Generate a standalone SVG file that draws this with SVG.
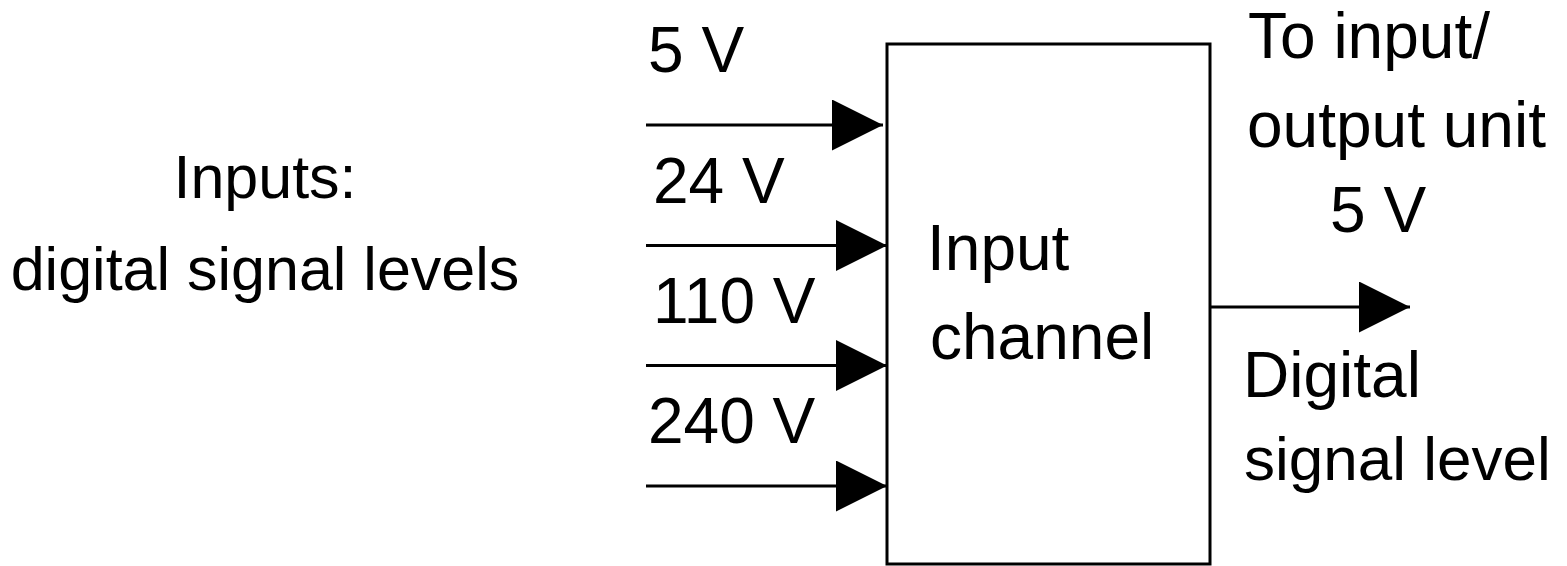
<svg xmlns="http://www.w3.org/2000/svg" width="1567" height="566" viewBox="0 0 1567 566">
  <style>
    .t { font-family: "Liberation Sans", Arial, sans-serif; font-size: 64px; fill: #000; }
    .tl { font-family: "Liberation Sans", Arial, sans-serif; font-size: 61px; fill: #000; }
    .box { fill: #fff; stroke: #000; stroke-width: 3; }
    .wire { stroke: #000; stroke-width: 3; fill: none; }
  </style>
  <defs>
    <marker id="arrow" markerUnits="userSpaceOnUse" markerWidth="51" markerHeight="51" viewBox="0 0 51 51" refX="51" refY="25.5" orient="auto">
      <path d="M0,0 L51,25.5 L0,51 Z" fill="#000"/>
    </marker>
  </defs>
  <rect width="1567" height="566" fill="#fff"/>

  <g id="inputs-label">
    <text class="tl" x="265" y="198" text-anchor="middle">Inputs:</text>
    <text class="tl" x="265" y="290" text-anchor="middle">digital signal levels</text>
  </g>

  <g id="input-channel">
    <rect class="box" x="887" y="44" width="323" height="520"/>
    <text class="t" x="927" y="270">Input</text>
    <text class="t" x="930" y="359">channel</text>
  </g>

  <g id="connectors">
    <line class="wire" x1="646" y1="125" x2="883" y2="125" marker-end="url(#arrow)"/>
    <line class="wire" x1="646" y1="245.5" x2="887" y2="245.5" marker-end="url(#arrow)"/>
    <line class="wire" x1="646" y1="365.5" x2="887" y2="365.5" marker-end="url(#arrow)"/>
    <line class="wire" x1="646" y1="486" x2="887" y2="486" marker-end="url(#arrow)"/>
    <line class="wire" x1="1210" y1="307" x2="1410" y2="307" marker-end="url(#arrow)"/>
  </g>

  <g id="input-levels">
    <text class="t" x="648" y="72">5 V</text>
    <text class="t" x="653" y="203">24 V</text>
    <text class="t" x="653" y="323">110 V</text>
    <text class="t" x="648" y="443">240 V</text>
  </g>

  <g id="output-labels">
    <text class="t" x="1248" y="58">To input/</text>
    <text class="t" x="1247" y="147">output unit</text>
    <text class="t" x="1330" y="232">5 V</text>
    <text class="t" x="1243" y="397">Digital</text>
    <text class="t" x="1244" y="480" style="font-size:62px">signal level</text>
  </g>
</svg>
